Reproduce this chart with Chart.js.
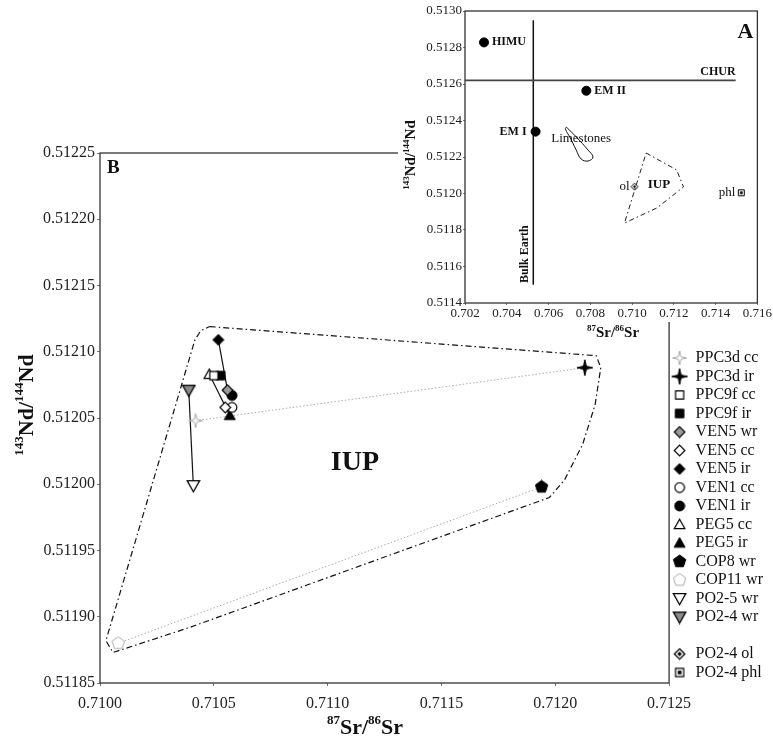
<!DOCTYPE html>
<html>
<head>
<meta charset="utf-8">
<title>Sr-Nd isotope diagram</title>
<style>
  html, body { margin: 0; padding: 0; background: #fff; }
  #wrap { position: relative; width: 773px; height: 745px; overflow: hidden; }
  #mainChart { position: absolute; left: 0; top: 0; }
  #insetChart { position: absolute; left: 398px; top: 0; }
</style>
</head>
<body>
<div id="wrap">
  <canvas id="mainChart" width="773" height="745"></canvas>
  <canvas id="insetChart" width="375" height="342"></canvas>
</div>

<script src="https://cdn.jsdelivr.net/npm/chart.js"></script>
<script>
// ---------- panel B (main) ----------
const mainSrTicks = [0.7100, 0.7105, 0.7110, 0.7115, 0.7120, 0.7125];
const mainNdTicks = [0.51185, 0.51190, 0.51195, 0.51200, 0.51205, 0.51210, 0.51215, 0.51220, 0.51225];

const sampleNames = ['PPC3d cc', 'PPC3d ir', 'PPC9f cc', 'PPC9f ir', 'VEN5 wr', 'VEN5 cc', 'VEN5 ir',
  'VEN1 cc', 'VEN1 ir', 'PEG5 cc', 'PEG5 ir', 'COP8 wr', 'COP11 wr', 'PO2-5 wr', 'PO2-4 wr'];
const sampleSr = [0.71042, 0.71213, 0.71050, 0.71053, 0.71056, 0.71055, 0.71052,
  0.71058, 0.71058, 0.71048, 0.71057, 0.71194, 0.71008, 0.71041, 0.71039];
const sampleNd = [0.512048, 0.512088, 0.512082, 0.512082, 0.512071, 0.512058, 0.512109,
  0.512058, 0.512067, 0.512083, 0.512052, 0.511998, 0.511880, 0.511999, 0.512071];

// pairs joined by tie lines
const grayTies = [['PPC3d cc', 'PPC3d ir'], ['COP11 wr', 'COP8 wr']];
const blackTies = [['VEN5 ir', 'VEN5 wr'], ['PEG5 cc', 'PEG5 ir'], ['PO2-4 wr', 'PO2-5 wr']];

// IUP field outline
const iupSr = [0.710482, 0.712180, 0.712200, 0.712175, 0.712120, 0.712040, 0.711974, 0.710395, 0.710057, 0.710026, 0.710417, 0.710443, 0.710482];
const iupNd = [0.512119, 0.512097, 0.512088, 0.512060, 0.512030, 0.512003, 0.511990, 0.511892, 0.511873, 0.511882, 0.512109, 0.512116, 0.512119];

const legendNames = sampleNames.concat(['', 'PO2-4 ol', 'PO2-4 phl']);

// ---------- panel A (inset) ----------
const insetSrTicks = [0.702, 0.704, 0.706, 0.708, 0.710, 0.712, 0.714, 0.716];
const insetNdTicks = [0.5114, 0.5116, 0.5118, 0.5120, 0.5122, 0.5124, 0.5126, 0.5128, 0.5130];

const reservoirNames = ['HIMU', 'EM II', 'EM I'];
const reservoirSr = [0.70291, 0.70781, 0.70538];
const reservoirNd = [0.512828, 0.512563, 0.512339];

const churNd = 0.51262;
const churSr = [0.7020, 0.71496];
const bulkEarthSr = 0.70527;
const bulkEarthNd = [0.51150, 0.51295];

const limestoneSr = [0.706855, 0.707326, 0.707892, 0.708128, 0.707892, 0.707562, 0.707326, 0.707044, 0.706808, 0.706855];
const limestoneNd = [0.512364, 0.512310, 0.512238, 0.512200, 0.512178, 0.512189, 0.512238, 0.512304, 0.512353, 0.512364];

const iupInsetSr = [0.710673, 0.712134, 0.712464, 0.711192, 0.709636, 0.710673];
const iupInsetNd = [0.512222, 0.512129, 0.512036, 0.511921, 0.511838, 0.512222];

const mineralNames = ['ol', 'phl'];
const mineralSr = [0.71012, 0.71523];
const mineralNd = [0.512037, 0.512004];

// ---------- markers ----------
const SERIF = '"Liberation Serif", "Times New Roman", serif';

function shapePath(g, shape, r) {
  let pts = [];
  if (shape === 'circle') { g.arc(0, 0, r, 0, Math.PI * 2); return; }
  if (shape === 'square') pts = [[-r * .85, -r * .85], [r * .85, -r * .85], [r * .85, r * .85], [-r * .85, r * .85]];
  if (shape === 'diamond') pts = [[0, -r], [r, 0], [0, r], [-r, 0]];
  if (shape === 'up') pts = [[0, -r], [r, r * .78], [-r, r * .78]];
  if (shape === 'down') pts = [[0, r], [r, -r * .78], [-r, -r * .78]];
  if (shape === 'pent') {
    for (let i = 0; i < 5; i++) {
      const a = -Math.PI / 2 + i * 2 * Math.PI / 5;
      pts.push([r * Math.cos(a), r * Math.sin(a)]);
    }
  }
  if (shape === 'star') {
    for (let i = 0; i < 8; i++) {
      const a = -Math.PI / 2 + i * Math.PI / 4;
      const rr = i % 2 ? r * 0.26 : r;
      pts.push([rr * Math.cos(a), rr * Math.sin(a)]);
    }
  }
  pts.forEach((p, i) => i ? g.lineTo(p[0], p[1]) : g.moveTo(p[0], p[1]));
  g.closePath();
}

function makeMarker(size, shape, fill, stroke, lw, dot) {
  const c = document.createElement('canvas');
  c.width = c.height = size;
  const g = c.getContext('2d');
  const w = lw || 1.2;
  g.translate(size / 2, size / 2);
  g.beginPath();
  shapePath(g, shape, size / 2 - w);
  if (fill) { g.fillStyle = fill; g.fill(); }
  if (stroke) { g.strokeStyle = stroke; g.lineWidth = w; g.stroke(); }
  if (dot) {
    g.beginPath();
    shapePath(g, shape, (size / 2 - w) * 0.45);
    g.fillStyle = '#000';
    g.fill();
  }
  return c;
}

const blank = document.createElement('canvas');
blank.width = blank.height = 2;

const markers = {
  'PPC3d cc': makeMarker(16, 'star', '#fff', '#aaa', 1),
  'PPC3d ir': makeMarker(18, 'star', '#000', '#000', 1),
  'PPC9f cc': makeMarker(12, 'square', '#fff', '#000', 1.2),
  'PPC9f ir': makeMarker(12, 'square', '#000', '#000', 1),
  'VEN5 wr': makeMarker(13, 'diamond', '#999', '#000', 1.2),
  'VEN5 cc': makeMarker(13, 'diamond', '#fff', '#000', 1.2),
  'VEN5 ir': makeMarker(13, 'diamond', '#000', '#000', 1),
  'VEN1 cc': makeMarker(12, 'circle', '#fff', '#000', 1.2),
  'VEN1 ir': makeMarker(12, 'circle', '#000', '#000', 1),
  'PEG5 cc': makeMarker(13, 'up', '#fff', '#000', 1.2),
  'PEG5 ir': makeMarker(13, 'up', '#000', '#000', 1),
  'COP8 wr': makeMarker(15, 'pent', '#000', '#000', 1),
  'COP11 wr': makeMarker(15, 'pent', '#fff', '#aaa', 1),
  'PO2-5 wr': makeMarker(15, 'down', '#fff', '#000', 1.3),
  'PO2-4 wr': makeMarker(15, 'down', '#8a8a8a', '#000', 1.3),
  'PO2-4 ol': makeMarker(13, 'diamond', '#fff', '#000', 1.3, true),
  'PO2-4 phl': makeMarker(12, 'square', '#fff', '#000', 1.2, true),
  '': blank
};

// ---------- text helpers ----------
function drawSup(ctx, parts, x, y, size, rotate) {
  ctx.save();
  ctx.translate(x, y);
  if (rotate) ctx.rotate(-Math.PI / 2);
  const big = 'bold ' + size + 'px ' + SERIF;
  const small = 'bold ' + Math.round(size * 0.58) + 'px ' + SERIF;
  let total = 0;
  parts.forEach(p => { ctx.font = p[1] ? small : big; total += ctx.measureText(p[0]).width; });
  let cx = -total / 2;
  ctx.textAlign = 'left';
  ctx.textBaseline = 'alphabetic';
  ctx.fillStyle = '#111';
  parts.forEach(p => {
    ctx.font = p[1] ? small : big;
    ctx.fillText(p[0], cx, p[1] ? size * 0.35 - size * 0.42 : size * 0.35);
    cx += ctx.measureText(p[0]).width;
  });
  ctx.restore();
}

function label(ctx, text, x, y, font, align, rotate) {
  ctx.save();
  ctx.translate(x, y);
  if (rotate) ctx.rotate(-Math.PI / 2);
  ctx.font = font;
  ctx.fillStyle = '#111';
  ctx.textAlign = align || 'center';
  ctx.textBaseline = 'middle';
  ctx.fillText(text, 0, 0);
  ctx.restore();
}

const framePlugin = {
  id: 'frame',
  beforeDatasetsDraw(chart) {
    const a = chart.chartArea, ctx = chart.ctx;
    ctx.save();
    ctx.strokeStyle = '#333';
    ctx.lineWidth = 1.3;
    ctx.strokeRect(a.left, a.top, a.right - a.left, a.bottom - a.top);
    ctx.restore();
  }
};

// ---------- main chart ----------
const pts = (xs, ys) => xs.map((x, i) => ({ x: x, y: ys[i] }));

function tieSet(pair, color, dash, width) {
  const a = sampleNames.indexOf(pair[0]), b = sampleNames.indexOf(pair[1]);
  return {
    label: 'tie',
    data: [{ x: sampleSr[a], y: sampleNd[a] }, { x: sampleSr[b], y: sampleNd[b] }],
    showLine: true, pointRadius: 0, borderColor: color, borderWidth: width,
    borderDash: dash, order: 2
  };
}

const mainSets = sampleNames.map((name, i) => ({
  label: name,
  data: [{ x: sampleSr[i], y: sampleNd[i] }],
  pointStyle: markers[name],
  pointRadius: 6,
  order: 0
}));
grayTies.forEach(p => mainSets.push(tieSet(p, '#aaa', [1.5, 2], 1)));
blackTies.forEach(p => mainSets.push(tieSet(p, '#111', [], 1.2)));
mainSets.push({
  label: 'IUP field',
  data: pts(iupSr, iupNd),
  showLine: true, pointRadius: 0, borderColor: '#111', borderWidth: 1.2,
  borderDash: [6, 3, 1.5, 3], order: 3
});

const mainText = {
  id: 'mainText',
  afterDraw(chart) {
    const ctx = chart.ctx, a = chart.chartArea;
    const sx = chart.scales.x, sy = chart.scales.y;
    drawSup(ctx, [['143', true], ['Nd/', false], ['144', true], ['Nd', false]], 25, 405, 22, true);
    drawSup(ctx, [['87', true], ['Sr/', false], ['86', true], ['Sr', false]], 365, 726, 22, false);
    label(ctx, 'B', a.left + 7, a.top + 15, 'bold 19px ' + SERIF, 'left');
    label(ctx, 'IUP', sx.getPixelForValue(0.71112), sy.getPixelForValue(0.512016), 'bold 28px ' + SERIF);
  }
};

new Chart(document.getElementById('mainChart'), {
  type: 'scatter',
  data: { datasets: mainSets },
  options: {
    responsive: false,
    animation: false,
    layout: { padding: { left: 30, top: 153, right: 0, bottom: 0 } },
    scales: {
      x: {
        type: 'linear', min: 0.7100, max: 0.7125,
        afterBuildTicks: s => { s.ticks = mainSrTicks.map(v => ({ value: v })); },
        afterFit: s => { s.height = 62; },
        grid: { drawOnChartArea: false, tickLength: 3, color: '#777' },
        border: { display: false },
        ticks: { callback: v => v.toFixed(4), padding: 8, autoSkip: false, maxRotation: 0,
          font: { family: SERIF, size: 16 }, color: '#222' }
      },
      y: {
        type: 'linear', min: 0.51185, max: 0.51225,
        afterBuildTicks: s => { s.ticks = mainNdTicks.map(v => ({ value: v })); },
        afterFit: s => { s.width = 70; },
        grid: { drawOnChartArea: false, tickLength: 3, color: '#777' },
        border: { display: false },
        ticks: { callback: v => v.toFixed(5), padding: 2, autoSkip: false,
          font: { family: SERIF, size: 16 }, color: '#222' }
      }
    },
    plugins: {
      tooltip: { enabled: false },
      legend: {
        position: 'right',
        align: 'end',
        fullSize: false,
        labels: {
          usePointStyle: true,
          padding: 2.5,
          color: '#111',
          font: { family: SERIF, size: 16 },
          generateLabels: () => legendNames.map((name, i) => ({
            text: name, pointStyle: markers[name], fillStyle: '#000', strokeStyle: '#000',
            lineWidth: 0, hidden: false, datasetIndex: i, fontColor: '#111'
          }))
        }
      }
    }
  },
  plugins: [framePlugin, mainText]
});

// ---------- inset chart ----------
const insetBg = {
  id: 'insetBg',
  beforeDraw(chart) {
    const ctx = chart.ctx;
    ctx.save();
    ctx.fillStyle = '#fff';
    ctx.fillRect(0, 0, chart.width, 322);
    ctx.restore();
  }
};

const insetText = {
  id: 'insetText',
  afterDatasetsDraw(chart) {
    const ctx = chart.ctx;
    const sx = chart.scales.x, sy = chart.scales.y;
    const px = v => sx.getPixelForValue(v), py = v => sy.getPixelForValue(v);
    const bold = 'bold 12px ' + SERIF, norm = '13px ' + SERIF;
    label(ctx, reservoirNames[0], px(reservoirSr[0]) + 8, py(reservoirNd[0]), bold, 'left');
    label(ctx, reservoirNames[1], px(reservoirSr[1]) + 8, py(reservoirNd[1]), bold, 'left');
    label(ctx, reservoirNames[2], px(reservoirSr[2]) - 9, py(reservoirNd[2]), bold, 'right');
    label(ctx, 'CHUR', px(0.714114), py(churNd) - 8, bold);
    label(ctx, 'Bulk Earth', px(bulkEarthSr) - 8, py(0.511668), bold, 'center', true);
    label(ctx, 'Limestones', px(0.707562), py(0.512299), norm);
    label(ctx, 'IUP', px(0.711286), py(0.512047), 'bold 13px ' + SERIF);
    label(ctx, mineralNames[0], px(mineralSr[0]) - 5, py(mineralNd[0]), norm, 'right');
    label(ctx, mineralNames[1], px(mineralSr[1]) - 6, py(mineralNd[1]), norm, 'right');
    label(ctx, 'A', px(0.715434), py(0.512885), 'bold 22px ' + SERIF);
    drawSup(ctx, [['143', true], ['Nd/', false], ['144', true], ['Nd', false]], 12, 155, 15, true);
    drawSup(ctx, [['87', true], ['Sr/', false], ['86', true], ['Sr', false]], 215, 332, 15, false);
  }
};

const insetMarkers = {
  ol: makeMarker(9, 'diamond', '#fff', '#000', 1, true),
  phl: makeMarker(9, 'square', '#fff', '#000', 1, true)
};

const insetSets = [
  {
    label: 'reservoirs',
    data: pts(reservoirSr, reservoirNd),
    pointStyle: 'circle', pointRadius: 4.5, backgroundColor: '#000', borderColor: '#000'
  },
  {
    label: 'CHUR',
    data: [{ x: churSr[0], y: churNd }, { x: churSr[1], y: churNd }],
    showLine: true, pointRadius: 0, borderColor: '#444', borderWidth: 1.8
  },
  {
    label: 'Bulk Earth',
    data: [{ x: bulkEarthSr, y: bulkEarthNd[0] }, { x: bulkEarthSr, y: bulkEarthNd[1] }],
    showLine: true, pointRadius: 0, borderColor: '#111', borderWidth: 1.5
  },
  {
    label: 'Limestones',
    data: pts(limestoneSr, limestoneNd),
    showLine: true, pointRadius: 0, borderColor: '#111', borderWidth: 1, tension: 0.4
  },
  {
    label: 'IUP',
    data: pts(iupInsetSr, iupInsetNd),
    showLine: true, pointRadius: 0, borderColor: '#222', borderWidth: 1,
    borderDash: [5, 3, 1.5, 3]
  }
];
mineralNames.forEach((name, i) => insetSets.push({
  label: name,
  data: [{ x: mineralSr[i], y: mineralNd[i] }],
  pointStyle: insetMarkers[name], pointRadius: 4
}));

new Chart(document.getElementById('insetChart'), {
  type: 'scatter',
  data: { datasets: insetSets },
  options: {
    responsive: false,
    animation: false,
    layout: { padding: { left: 20, top: 11, right: 11, bottom: 0 } },
    scales: {
      x: {
        type: 'linear', min: 0.702, max: 0.716,
        afterBuildTicks: s => { s.ticks = insetSrTicks.map(v => ({ value: v })); },
        afterFit: s => { s.height = 39; },
        grid: { drawOnChartArea: false, tickLength: 2, color: '#777' },
        border: { display: false },
        ticks: { callback: v => v.toFixed(3), padding: 1, autoSkip: false, maxRotation: 0,
          font: { family: SERIF, size: 13 }, color: '#222' }
      },
      y: {
        type: 'linear', min: 0.5114, max: 0.5130,
        afterBuildTicks: s => { s.ticks = insetNdTicks.map(v => ({ value: v })); },
        afterFit: s => { s.width = 47; },
        grid: { drawOnChartArea: false, tickLength: 2, color: '#777' },
        border: { display: false },
        ticks: { callback: v => v.toFixed(4), padding: 1, autoSkip: false,
          font: { family: SERIF, size: 13 }, color: '#222' }
      }
    },
    plugins: { legend: { display: false }, tooltip: { enabled: false } }
  },
  plugins: [insetBg, framePlugin, insetText]
});
</script>
</body>
</html>
